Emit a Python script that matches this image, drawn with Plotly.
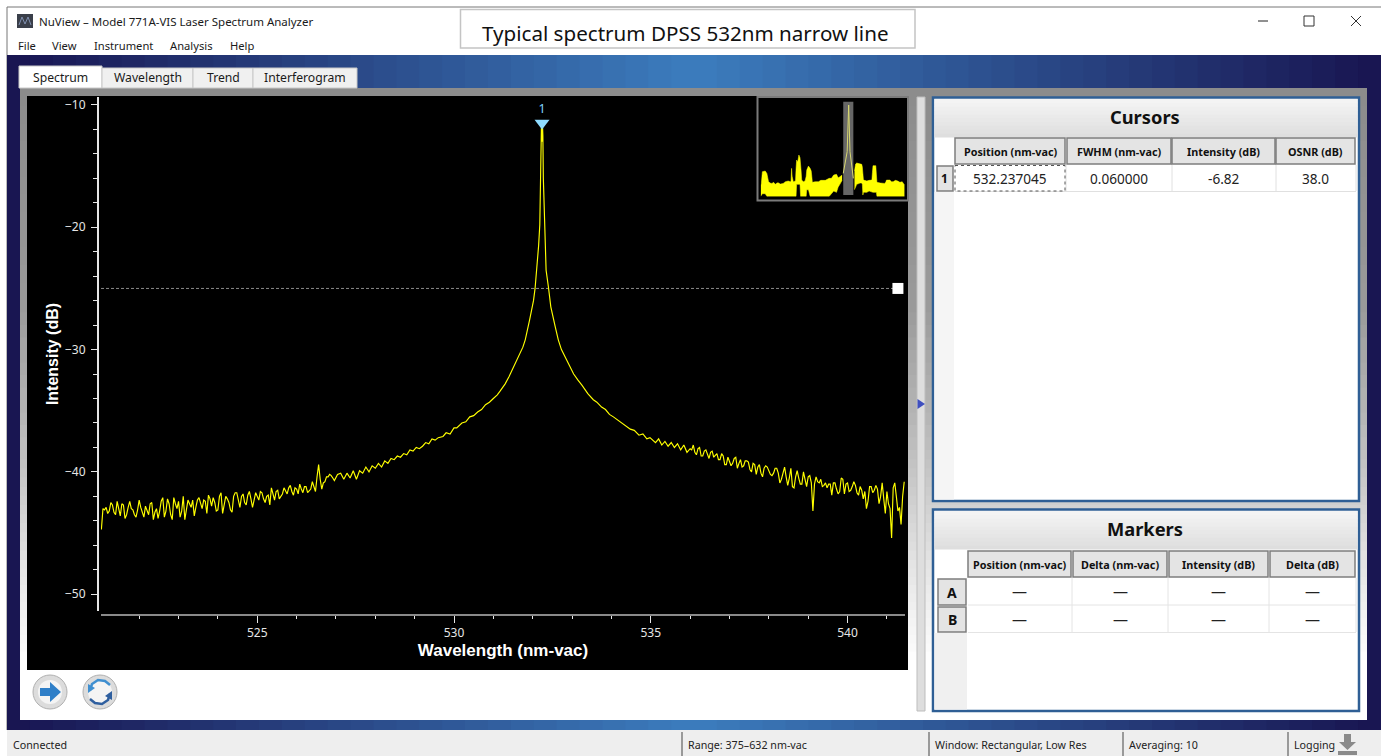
import plotly.graph_objects as go

# ---- chart data ----
left_nm = [521.04,521.12,521.20,521.28,521.36,521.44,521.52,521.60,521.68,521.76,
 521.84,521.92,522.00,522.08,522.16,522.24,522.32,522.40,522.48,522.56,
 522.64,522.72,522.80,522.88,522.96,523.04,523.12,523.20,523.28,523.36,
 523.44,523.52,523.60,523.68,523.76,523.84,523.92,524.00,524.08,524.16,
 524.24,524.32,524.40,524.48,524.56,524.64,524.72,524.80,524.88,524.96,
 525.04,525.12,525.20,525.28,525.36,525.44,525.52,525.60,525.68,525.76,
 525.84,525.92,526.00,526.08,526.16,526.24,526.32,526.40,526.48,526.56,
 526.64,526.72,526.80,526.88,526.96,527.04,527.12,527.20,527.28,527.36,
 527.44,527.52,527.60,527.68,527.76,527.84,527.92,528.00,528.08,528.16,
 528.24,528.32,528.40,528.48,528.56,528.64,528.72,528.80,528.88,528.96,
 529.04,529.12,529.20,529.28,529.36,529.44,529.52]
left_db = [-44.7,-43.1,-43.4,-42.5,-43.3,-42.4,-43.6,-42.7,-43.5,-42.4,
 -43.1,-43.7,-42.3,-43.4,-42.8,-43.5,-42.5,-43.3,-43.8,-42.4,
 -43.7,-42.2,-43.5,-42.1,-43.0,-43.7,-42.0,-42.9,-42.6,-42.3,
 -42.9,-42.1,-43.0,-42.4,-41.9,-42.8,-42.5,-43.1,-41.7,-42.7,
 -42.2,-43.1,-42.0,-41.7,-42.9,-41.8,-42.7,-41.6,-42.9,-41.7,
 -42.3,-41.7,-42.5,-41.9,-41.3,-42.3,-41.5,-42.0,-41.3,-41.8,
 -41.1,-41.9,-41.4,-41.0,-41.7,-41.2,-41.5,-40.8,-41.6,-39.4,
 -41.4,-40.8,-40.4,-40.3,-40.7,-40.2,-40.1,-40.6,-40.1,-40.5,
 -39.9,-40.6,-39.9,-40.1,-39.6,-40.0,-39.5,-39.7,-39.3,-39.6,
 -39.1,-39.3,-38.9,-39.0,-38.7,-38.8,-38.5,-38.6,-38.2,-38.3,
 -38.0,-38.1,-37.9,-37.6,-37.7,-37.3,-37.4]
left_fill_nm = [521.08,521.16,521.24,521.32,521.40,521.48,521.56,521.64,521.72,521.80,
 521.88,521.96,522.04,522.12,522.20,522.28,522.36,522.44,522.52,522.60,
 522.68,522.76,522.84,522.92,523.00,523.08,523.16,523.24,523.32,523.40,
 523.48,523.56,523.64,523.72,523.80,523.88,523.96,524.04,524.12,524.20,
 524.28,524.36,524.44,524.52,524.60,524.68,524.76,524.84,524.92,525.00,
 525.08,525.16,525.24,525.32,525.40,525.48,525.56,525.64,525.72,525.80,
 525.88,525.96,526.04,526.12,526.20,526.28,526.36,526.44,526.52,526.60,
 526.68,526.76,526.84,526.92]
left_fill_db = [-43.0,-42.9,-43.2,-42.7,-43.5,-42.9,-42.6,-43.8,-42.9,-43.0,
 -43.5,-43.1,-42.9,-43.7,-43.1,-42.6,-43.9,-43.0,-43.2,-42.1,
 -43.2,-42.6,-43.9,-42.6,-42.4,-43.2,-43.9,-42.3,-42.9,-43.6,
 -42.3,-42.6,-42.3,-43.4,-42.2,-42.1,-43.2,-42.0,-43.4,-42.0,
 -42.5,-43.3,-41.7,-42.3,-42.0,-42.5,-41.9,-42.2,-42.3,-42.0,
 -41.6,-42.2,-42.0,-42.7,-41.8,-41.6,-42.2,-41.8,-41.6,-41.3,
 -41.6,-41.3,-41.8,-41.4,-41.2,-41.7,-41.4,-41.2,-40.4,-40.6,
 -40.9,-40.4,-40.2,-40.5]
peak_nm = [529.60,529.72,529.80,529.90,530.00,530.07,530.20,530.30,530.40,530.50,530.60,530.70,530.80,530.90,
 531.00,531.10,531.17,531.30,531.40,531.47,531.58,531.68,531.75,531.81,531.87,531.92,531.97,532.02,532.06,532.09,
 532.12,532.15,532.18,532.20,532.212,532.222,532.235,532.248,532.258,532.27,532.30,532.34,532.40,532.46,532.57,532.65,532.73,532.82,
 532.93,533.04,533.15,533.25,533.40,533.54,533.63,533.75,533.85,533.95,534.05,534.14,534.25,534.36,534.48,534.58,
 534.70,534.80,534.90,534.98]
peak_db = [-37.2,-37.1,-36.8,-36.9,-36.4,-36.4,-36.0,-35.9,-35.5,-35.4,-35.1,-34.9,-34.5,-34.3,
 -34.0,-33.7,-33.4,-32.8,-32.2,-31.7,-31.0,-30.3,-29.8,-29.2,-28.4,-27.6,-26.8,-26.0,-25.0,-24.0,
 -23.0,-21.5,-19.8,-16.0,-12.5,-11.6,-13.0,-11.6,-12.5,-16.0,-20.3,-23.5,-24.9,-26.5,-28.1,-29.2,-30.0,-30.6,
 -31.3,-32.0,-32.5,-32.9,-33.6,-34.1,-34.3,-34.7,-34.9,-35.3,-35.5,-35.7,-36.0,-36.2,-36.5,-36.6,
 -37.0,-36.9,-37.3,-37.2]
right_nm = [535.04,535.12,535.20,535.28,535.36,535.44,535.52,535.60,535.68,535.76,
 535.84,535.92,536.00,536.08,536.16,536.24,536.32,536.40,536.48,536.56,
 536.64,536.72,536.80,536.88,536.96,537.04,537.12,537.20,537.28,537.36,
 537.44,537.52,537.60,537.68,537.76,537.84,537.92,538.00,538.08,538.16,
 538.24,538.32,538.40,538.48,538.56,538.64,538.72,538.80,538.88,538.96,
 539.04,539.12,539.20,539.28,539.36,539.44,539.52,539.60,539.68,539.76,
 539.84,539.92,540.00,540.08,540.16,540.24,540.32,540.40,540.48,540.56,
 540.64,540.72,540.80,540.88,540.96,541.04,541.12,541.20,541.28,541.36,541.44]
right_db = [-37.4,-37.6,-37.3,-37.8,-37.5,-37.9,-37.6,-38.0,-37.7,-38.2,
 -37.8,-38.4,-38.1,-37.8,-38.6,-38.0,-38.7,-38.2,-38.9,-38.3,
 -38.6,-39.0,-38.5,-39.4,-38.8,-39.5,-38.9,-39.7,-39.0,-39.5,
 -39.1,-39.8,-39.3,-40.2,-39.4,-40.4,-39.5,-40.0,-40.3,-39.7,
 -40.1,-40.6,-39.6,-41.1,-39.7,-41.3,-39.9,-41.0,-40.0,-41.2,
 -40.3,-43.2,-40.4,-40.9,-41.2,-40.9,-41.0,-41.9,-40.9,-41.8,
 -40.5,-41.8,-40.9,-41.5,-40.8,-41.7,-41.2,-42.2,-43.0,-41.2,
 -41.7,-41.1,-42.6,-40.9,-43.4,-42.6,-45.4,-40.9,-43.2,-44.3,-40.8]
right_fill_nm = [536.04,536.12,536.20,536.28,536.36,536.44,536.52,536.60,536.68,536.76,
 536.84,536.92,537.00,537.08,537.16,537.24,537.32,537.40,537.48,537.56,
 537.64,537.72,537.80,537.88,537.96,538.04,538.12,538.20,538.28,538.36,
 538.44,538.52,538.60,538.68,538.76,538.84,538.92,539.00,539.08,539.16,
 539.24,539.32,539.40,539.48,539.56,539.64,539.72,539.80,539.88,539.96,
 540.04,540.12,540.20,540.28,540.36,540.44,540.52,540.60,540.68,540.76,
 540.84,540.92,541.00,541.08,541.16,541.24,541.32,541.40]
right_fill_db = [-38.2,-38.4,-38.1,-38.7,-38.3,-38.5,-38.4,-38.8,-38.5,-39.0,
 -38.7,-39.4,-39.1,-39.3,-38.8,-39.3,-39.6,-39.1,-39.2,-40.0,
 -39.4,-39.6,-40.1,-39.7,-39.6,-40.2,-40.1,-39.7,-40.9,-40.2,
 -40.4,-40.5,-41.2,-40.4,-40.5,-41.0,-40.6,-40.4,-40.9,-41.0,
 -40.8,-40.6,-41.1,-41.3,-41.0,-40.9,-41.4,-41.6,-40.6,-41.0,
 -41.6,-41.2,-41.1,-41.9,-41.5,-41.6,-42.4,-41.2,-41.5,-41.4,
 -42.0,-42.2,-41.6,-43.0,-41.3,-42.0,-42.9,-42.0]

cursor_nm = [532.237]
cursor_db = [-11.47]
cursor_label = ["1"]
cursor_label_db = [-10.9]
threshold_nm = [521.03, 541.28]
threshold_db = [-25, -25]

overview_left_nm = [375,376,378,383,386,388,389,392,395,398,401,404,406,410,415,419,424,428,429,430,431,433,437,438,439,441,443,445,446,447,448,451,454,456,457,460,463,465,466,467,472,478,482,487,490,493,497,501,505,510,513,516,520]
overview_left_top = [-72.5,-72,-62.5,-62,-63.8,-68,-70,-71,-71.3,-70.5,-72,-71,-70.8,-71.8,-71.3,-70,-69.5,-70,-69.5,-60,-66,-70,-69.5,-60,-53.8,-55,-50,-52,-55,-62,-68.8,-70,-69.5,-66,-61.3,-58.3,-60,-62,-66,-70.5,-70,-70,-69,-68.8,-69,-68.3,-67.5,-67.5,-65,-64.5,-67,-66.3,-65]
overview_left_low = [-81,-80,-79,-79,-81,-81,-81,-81,-81,-81,-81,-81,-81,-81,-81,-81,-81,-81,-81,-81,-81,-81,-81,-81,-72,-72,-72,-72,-81,-81,-81,-81,-81,-81,-76,-76,-81,-81,-81,-81,-81,-81,-81,-81,-81,-81,-81,-79,-77,-78,-74,-72,-69]
overview_peak_nm = [522,526,529,531.7,534,537,540]
overview_peak_db = [-63.8,-55,-47.5,-12.5,-47.5,-57.5,-67.5]
overview_right_nm = [542,544,546,552,555,556,557,558,560,564,568,573,574,575,580,581,582,588,596,598,599,605,608,611,615,619,623,627,631]
overview_right_top = [-62,-56.8,-56,-56.3,-57,-59,-64,-68.8,-69,-69.5,-69,-68.8,-63,-58,-58,-64,-70.5,-71,-71.3,-70,-68.8,-68.8,-70,-70,-69,-69.5,-70.5,-70,-72.5]
overview_right_low = [-76,-74,-72,-71,-71,-72,-80,-78,-78,-78,-77,-78,-78,-78,-78,-78,-81,-81,-81,-81,-81,-81,-81,-81,-81,-81,-81,-81,-81]

tabs = ["Spectrum", "Wavelength", "Trend", "Interferogram"]
menus = ["File", "View", "Instrument", "Analysis", "Help"]
cursor_headers = ["Position (nm-vac)", "FWHM (nm-vac)", "Intensity (dB)", "OSNR (dB)"]
cursor_row = ["532.237045", "0.060000", "-6.82", "38.0"]
marker_headers = ["Position (nm-vac)", "Delta (nm-vac)", "Intensity (dB)", "Delta (dB)"]
status_items = ["Connected", "Range: 375–632 nm-vac", "Window: Rectangular, Low Res", "Averaging: 10", "Logging"]

spectrum = sorted(zip(left_nm + left_fill_nm + peak_nm + right_nm + right_fill_nm,
                      left_db + left_fill_db + peak_db + right_db + right_fill_db))
spectrum_nm = [p[0] for p in spectrum]
spectrum_db = [p[1] for p in spectrum]

# ---- page helpers ----
W, H = 1381, 756
def px(x): return x / W
def py(y): return 1 - y / H
shapes, notes = [], []
def rect(x0, y0, x1, y1, fill=None, line=None, lw=1, dash=None):
    shapes.append(dict(type="rect", xref="paper", yref="paper", layer="below",
        x0=px(x0), x1=px(x1), y0=py(y0), y1=py(y1), fillcolor=fill,
        line=dict(color=line, width=lw if line else 0, dash=dash)))
def seg(x0, y0, x1, y1, color, lw=1):
    shapes.append(dict(type="line", xref="paper", yref="paper", layer="below",
        x0=px(x0), x1=px(x1), y0=py(y0), y1=py(y1), line=dict(color=color, width=lw)))
def poly(points, fill=None, line=None, lw=1, close=True):
    d = "M" + " L".join(f"{px(a):.5f},{py(b):.5f}" for a, b in points) + (" Z" if close else "")
    shapes.append(dict(type="path", xref="paper", yref="paper", layer="below", path=d,
        fillcolor=fill, line=dict(color=line, width=lw if line else 0)))
def disc(cx, cy, r, fill, line=None, lw=1):
    shapes.append(dict(type="circle", xref="paper", yref="paper", layer="below",
        x0=px(cx-r), x1=px(cx+r), y0=py(cy+r), y1=py(cy-r), fillcolor=fill,
        line=dict(color=line, width=lw if line else 0)))
def text(x, y, s, size=11, color="#1a1a1a", anchor="center", font="Noto Sans", bold=False):
    notes.append(dict(xref="paper", yref="paper", x=px(x), y=py(y), text=f"<b>{s}</b>" if bold else s,
        showarrow=False, xanchor=anchor, yanchor="middle", borderpad=0,
        font=dict(family=font, size=size, color=color)))
def mix(a, b, t):
    return tuple(a[i] + (b[i]-a[i])*t for i in range(3))
def rgb(c): return "rgb(%d,%d,%d)" % tuple(round(v) for v in c)

# window
rect(0, 0, W, H, "#ffffff")
seg(7, 7, 1381, 7, "#777777", 1)
seg(7, 7, 7, 730, "#777777", 1)
# gradient backdrop
navy, blue = (24, 20, 80), (60, 125, 190)
steps = 60
for i in range(steps):
    x0 = 7 + (W-7)*i/steps
    x1 = 7 + (W-7)*(i+1)/steps + 1
    t = 1 - abs((x0+x1)/2 - 694) / 687
    rect(x0, 55, x1, 730, rgb(mix(navy, blue, t)))
# status bar
rect(7, 730, W, H, "#eeeeee")
for sx in [682, 929, 1123, 1288]:
    seg(sx, 732, sx, 756, "#444444", 1)
# white pane with vertical shading
stops = [(88, 140), (300, 154), (450, 192), (560, 228), (660, 255), (720, 255)]
for i in range(len(stops)-1):
    a, b = stops[i], stops[i+1]
    n = 12
    for k in range(n):
        y0 = a[0] + (b[0]-a[0])*k/n
        y1 = a[0] + (b[0]-a[0])*(k+1)/n + 1
        g = a[1] + (b[1]-a[1])*k/n
        rect(20, y0, 1367, min(y1, 720), rgb((g, g, g)))
# tabs
tab_edges = [(19, 102), (102, 193), (193, 253), (253, 357)]
for i, (a, b) in enumerate(tab_edges):
    rect(a, 66 if i == 0 else 68, b, 88, "#ffffff" if i == 0 else "#f0f0f0", "#c8c8c8", 1)
    text((a+b)/2, 77 if i == 0 else 78, tabs[i], 12.2)
# title bar
rect(17, 14, 33, 28, "#3a3f4a")
poly([(19, 25), (22, 17), (25, 24), (28, 17), (31, 25)], None, "#8090b0", 1, close=False)
text(38, 22, "NuView – Model 771A-VIS Laser Spectrum Analyzer", 11.5, anchor="left")
for x, label in zip([17, 51, 93, 169, 229], menus):
    text(x, 46, label, 11.2, anchor="left")
rect(460.5, 9.5, 915, 48, "#ffffff", "#c4c4c4", 1.5)
text(685.5, 33, "Typical spectrum DPSS 532nm narrow line", 20.6, "#111111")
seg(1258, 21, 1268, 21, "#222222", 1)
rect(1304, 16, 1314, 26, None, "#333333", 1)
seg(1351, 16, 1361, 26, "#333333", 1)
seg(1351, 26, 1361, 16, "#333333", 1)
# chart background
rect(27, 96, 908, 670, "#000000")
# inset frame and selected band
rect(757.5, 97, 908, 200.5, "#000000", "#7a7a7a", 2)
shapes.append(dict(type="rect", xref="x2", yref="y2", layer="below", x0=522, x1=540, y0=-80, y1=-9.5,
    fillcolor="#666666", line=dict(width=0)))
# splitter
rect(917, 97, 925, 711, "#dedede", "#bdbdbd", 1)
poly([(917.5, 399), (925, 404), (917.5, 409)], "#3f4fbf")
# panels
def panel(y0, y1, title, tx):
    rect(933, y0, 1359, y1, "#ffffff", "#2f5f95", 2.5)
    n = 10
    for k in range(n):
        g = 244 - 24*k/n
        rect(934.5, y0+1.5+(tx-y0-1.5)*k/n, 1357.5, y0+1.5+(tx-y0-1.5)*(k+1)/n + .5, rgb((g, g, g)))
    text(1145, (y0+tx)/2 - 1, title, 18.3, "#111111", font="Noto Sans", bold=True)
def head(x0, y0, x1, y1, s, size=10):
    rect(x0, y0, x1, y1, "#e4e4e4", "#7d7d7d", 1.5)
    text((x0+x1)/2, (y0+y1)/2, s, size, "#111111", bold=True)
panel(97.5, 501, "Cursors", 137)
rect(934.5, 192, 954, 499.5, "#f5f5f5")
cols1 = [(955, 1065), (1067, 1171), (1172, 1275), (1276, 1355)]
for (a, b), h, v in zip(cols1, cursor_headers, cursor_row):
    head(a, 138, b, 164, h, 10.8)
    text((a+b)/2, 178, v, 13.6, "#222222")
    seg(b+1, 165, b+1, 191, "#e0e0e0", 1)
seg(955, 191.5, 1356, 191.5, "#e0e0e0", 1)
rect(955, 165.5, 1065, 191, None, "#555555", 1, "dot")
head(937, 166, 953, 191, "1", 12)
panel(509.5, 711, "Markers", 549)
rect(934.5, 633, 967, 709.5, "#f0f0f0")
cols2 = [(968, 1071), (1073, 1167), (1169, 1268), (1270, 1355)]
for (a, b), h in zip(cols2, marker_headers):
    head(a, 551, b, 577, h, 10.8)
    for row_y in (591, 619):
        text((a+b)/2, row_y, "—", 15, "#222222")
    seg(b+1, 578, b+1, 632, "#e4e4e4", 1)
for ly in (605, 632.5):
    seg(968, ly, 1356, ly, "#e4e4e4", 1)
head(938, 579, 966, 605, "A", 14)
head(938, 607, 966, 632, "B", 14)
# toolbar icons
disc(50, 692, 17, "#dcdcdc", "#b0b0b0", 1)
disc(50, 692, 12, "#f4f4f4")
poly([(40, 688), (50, 688), (50, 682), (61, 692), (50, 702), (50, 696), (40, 696)], "#2f7fc8")
disc(100, 692, 17, "#dcdcdc", "#b0b0b0", 1)
disc(100, 692, 12, "#f4f4f4")
poly([(90, 690), (92, 684), (98, 680), (105, 681), (110, 685)], None, "#3f8fd0", 2.5, close=False)
poly([(110, 694), (108, 700), (102, 704), (95, 703), (90, 699)], None, "#2f5f9f", 2.5, close=False)
poly([(88, 684), (95, 688), (88, 693)], "#3f8fd0")
poly([(112, 700), (105, 696), (112, 691)], "#2f5f9f")
# status text
for x, s in zip([12, 687, 934, 1128, 1293], status_items):
    text(x, 745, s, 10.7, "#222222", anchor="left")
poly([(1344, 734), (1351, 734), (1351, 742), (1356, 742), (1347.5, 750), (1339, 742), (1344, 742)], "#8a8a8a")
rect(1338, 751, 1357, 755, "#8a8a8a")

# ---- traces ----
fig = go.Figure()
fig.add_trace(go.Scatter(x=threshold_nm, y=threshold_db, mode="lines", showlegend=False, hoverinfo="skip",
    line=dict(color="#8a8a8a", width=1, dash="3px,2px")))
fig.add_trace(go.Scatter(x=spectrum_nm, y=spectrum_db, mode="lines",
    showlegend=False, line=dict(color="#ffff00", width=1.15)))
fig.add_trace(go.Scatter(x=cursor_nm, y=cursor_db, mode="markers", showlegend=False, hoverinfo="skip",
    marker=dict(symbol="triangle-down", size=13, color="#8fdcff")))
fig.add_trace(go.Scatter(x=cursor_nm, y=cursor_label_db, mode="text", text=cursor_label, textposition="top center",
    textfont=dict(family="Noto Sans", size=12.5, color="#7fd4ff"), showlegend=False, hoverinfo="skip"))
fig.add_trace(go.Scatter(x=threshold_nm[1:], y=threshold_db[1:], mode="markers", showlegend=False, hoverinfo="skip",
    marker=dict(symbol="square", size=11, color="#ffffff")))
# overview inset
for nm, top, low in [(overview_left_nm, overview_left_top, overview_left_low),
                     (overview_right_nm, overview_right_top, overview_right_low)]:
    fig.add_trace(go.Scatter(x=nm, y=low, xaxis="x2", yaxis="y2", mode="lines", showlegend=False, hoverinfo="skip",
        line=dict(color="#ffff00", width=0.5)))
    fig.add_trace(go.Scatter(x=nm, y=top, xaxis="x2", yaxis="y2", mode="lines", fill="tonexty", showlegend=False,
        hoverinfo="skip", fillcolor="#ffff00", line=dict(color="#ffff00", width=0.5)))
fig.add_trace(go.Scatter(x=overview_peak_nm, y=overview_peak_db, xaxis="x2", yaxis="y2", mode="lines",
    showlegend=False, hoverinfo="skip", line=dict(color="#d8d870", width=1)))

tickfont = dict(family="Noto Sans", size=12, color="#e6e6e6")
fig.update_layout(
    width=W, height=H, margin=dict(l=0, r=0, t=0, b=0), autosize=False,
    paper_bgcolor="#ffffff", plot_bgcolor="rgba(0,0,0,0)",
    shapes=shapes, annotations=notes, showlegend=False, hovermode="closest",
    xaxis=dict(domain=[px(101), px(905)], range=[521.03, 541.46], anchor="free", position=py(615),
        tick0=525, dtick=5, showgrid=False, zeroline=False, showline=True, linecolor="#8a8a8a", linewidth=2,
        ticks="outside", ticklen=7, tickwidth=1, tickcolor="#e6e6e6", tickfont=tickfont,
        minor=dict(dtick=1, ticks="outside", ticklen=3, tickcolor="#e6e6e6", showgrid=False),
        title=dict(text="Wavelength (nm-vac)", standoff=0,
                   font=dict(family="Liberation Sans", size=17, color="#ffffff", weight="bold"))),
    yaxis=dict(domain=[py(611), py(97)], range=[-51.37, -9.35], anchor="free", position=px(98),
        tick0=-50, dtick=10, showgrid=False, zeroline=False, showline=True, linecolor="#e6e6e6", linewidth=2,
        ticks="outside", ticklen=6, tickwidth=1, tickcolor="#e6e6e6", tickfont=tickfont, ticklabelstandoff=3,
        minor=dict(dtick=2, ticks="outside", ticklen=4, tickcolor="#e6e6e6", showgrid=False),
        title=dict(text="Intensity (dB)", standoff=1,
                   font=dict(family="Liberation Sans", size=16, color="#ffffff", weight="bold"))),
    xaxis2=dict(domain=[px(760.7), px(905)], range=[375, 632], anchor="y2", visible=False, fixedrange=True),
    yaxis2=dict(domain=[py(196.7), py(101.7)], range=[-81.25, -10], anchor="x2", visible=False, fixedrange=True),
)
fig.write_html("out.html", config=dict(displayModeBar=False),
    post_script="document.body.style.margin='0';document.body.style.overflow='hidden';")
